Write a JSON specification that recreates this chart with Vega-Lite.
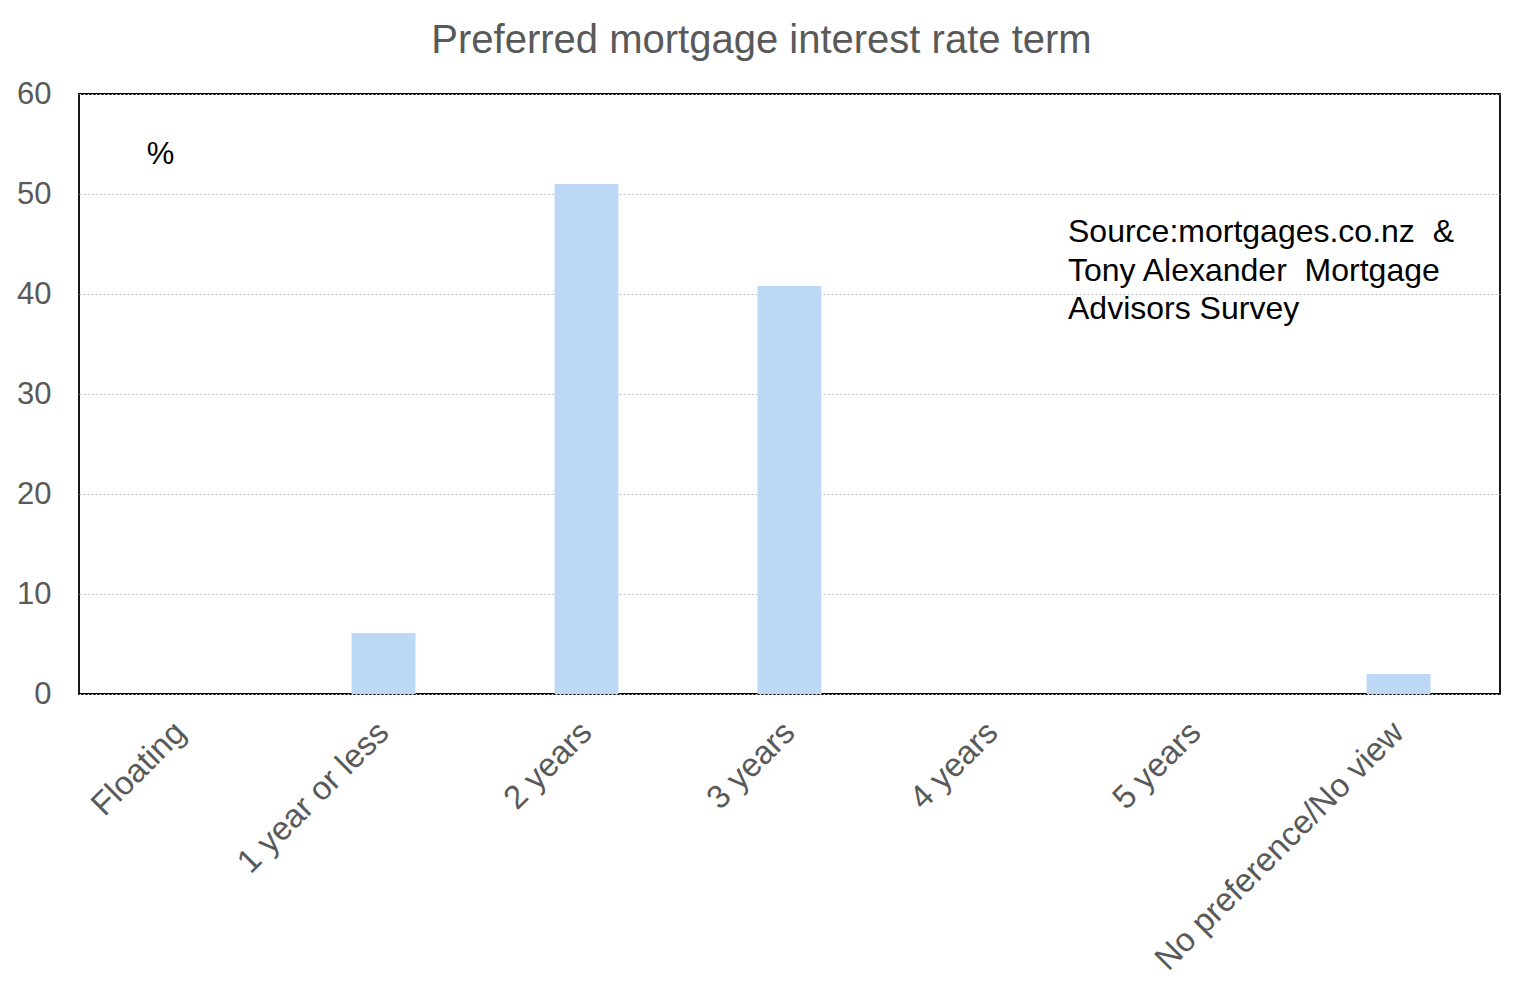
{
  "$schema": "https://vega.github.io/schema/vega-lite/v6.json",
  "width": 1421,
  "height": 600,
  "autosize": {"type": "none"},
  "padding": {"left": 79, "top": 94, "right": 25, "bottom": 301},
  "background": "white",
  "config": {
    "font": "Liberation Sans",
    "view": {"stroke": "black", "strokeWidth": 1.8}
  },
  "title": {
    "text": "Preferred mortgage interest rate term",
    "font": "Liberation Sans",
    "fontSize": 40,
    "fontWeight": "normal",
    "color": "#595959",
    "anchor": "middle",
    "baseline": "alphabetic",
    "dx": -28,
    "offset": -15
  },
  "datasets": {
    "bars": [
      {"term": "Floating", "pct": 0},
      {"term": "1 year or less", "pct": 6.1},
      {"term": "2 years", "pct": 51},
      {"term": "3 years", "pct": 40.8},
      {"term": "4 years", "pct": 0},
      {"term": "5 years", "pct": 0},
      {"term": "No preference/No view", "pct": 2}
    ],
    "unit": [{"term": "Floating", "pct": 53.9, "label": "%"}],
    "source": [{"term": "4 years", "pct": 45.2, "label": ["Source:mortgages.co.nz\u00a0 &", "Tony Alexander\u00a0 Mortgage", "Advisors Survey"]}]
  },
  "encoding": {
    "x": {
      "field": "term",
      "type": "nominal",
      "sort": null,
      "scale": {"domain": ["Floating", "1 year or less", "2 years", "3 years", "4 years", "5 years", "No preference/No view"], "paddingInner": 0.685, "paddingOuter": 0.3425},
      "axis": {
        "title": null,
        "labelAngle": -45,
        "labelAlign": "right",
        "labelBaseline": "middle",
        "labelFontSize": 33,
        "labelColor": "#595959",
        "labelPadding": 33,
        "ticks": false,
        "domain": false,
        "labelLimit": 500
      }
    },
    "y": {
      "field": "pct",
      "type": "quantitative",
      "scale": {"domain": [0, 60], "nice": false},
      "axis": {
        "title": null,
        "values": [0, 10, 20, 30, 40, 50, 60],
        "labelFontSize": 31,
        "labelColor": "#595959",
        "labelPadding": 28,
        "ticks": false,
        "domain": false,
        "grid": true,
        "gridColor": "#bfbfbf",
        "gridDash": [2, 2],
        "gridWidth": 1
      }
    }
  },
  "layer": [
    {
      "data": {"name": "bars"},
      "mark": {"type": "bar", "color": "#BDD8F4"}
    },
    {
      "data": {"name": "unit"},
      "mark": {"type": "text", "fontSize": 31, "color": "black", "dx": -20, "baseline": "middle", "align": "center"},
      "encoding": {"text": {"field": "label"}}
    },
    {
      "data": {"name": "source"},
      "mark": {"type": "text", "fontSize": 32, "color": "black", "dx": 75.5, "baseline": "alphabetic", "align": "left", "lineHeight": 38.5},
      "encoding": {"text": {"field": "label"}}
    }
  ]
}
